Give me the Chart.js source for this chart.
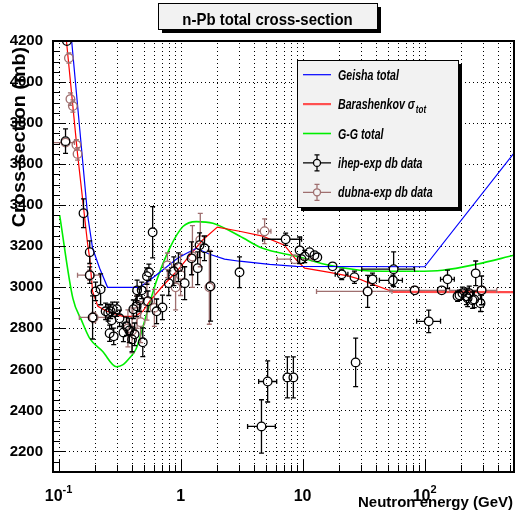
<!DOCTYPE html>
<html>
<head>
<meta charset="utf-8">
<title>n-Pb total cross-section</title>
<script src="https://cdn.jsdelivr.net/npm/chart.js@4.4.1/dist/chart.umd.min.js"></script>
<style>
  html, body { margin: 0; padding: 0; background: #fff; }
  #wrap { width: 515px; height: 527px; }
</style>
</head>
<body>
<div id="wrap"><canvas id="xsChart" width="515" height="527"></canvas></div>
<script>
// Energies in GeV, cross-sections in mb

// Model curves
const geishaE     = [0.128, 0.173, 0.19, 0.217, 0.252, 0.46, 0.557, 0.71, 0.945, 1.12, 1.35, 1.73, 2.29, 3.04, 5.36, 8.9, 100, 540];
const geishaSigma = [4200, 3351, 3190, 3093, 3000, 3000, 3034, 3083, 3141, 3166, 3190, 3161, 3137, 3127, 3112, 3102, 3100, 3654];

const barashE     = [0.116, 0.143, 0.173, 0.18, 0.19, 0.21, 0.248, 0.335, 0.42, 0.49, 0.557, 0.71, 0.93, 1.19, 1.51, 2.0, 3.04, 4.7, 7.1, 8.9, 10.4, 16.6, 24, 29.4, 35.3, 55, 540];
const barashSigma = [4200, 3650, 3210, 3141, 2980, 2907, 2883, 2858, 2858, 2883, 2932, 3005, 3078, 3156, 3229, 3293, 3273, 3249, 3205, 3132, 3093, 3073, 3054, 3039, 3020, 2978, 2976];

const ggE     = [0.102, 0.131, 0.154, 0.18, 0.229, 0.297, 0.335, 0.38, 0.433, 0.524, 0.632, 0.813, 1.045, 1.345, 1.84, 3.04, 4.7, 8.9, 16.6, 29.4, 45, 85, 140, 265, 540];
const ggSigma = [3351, 2946, 2840, 2751, 2688, 2613, 2622, 2654, 2702, 2865, 3028, 3190, 3296, 3320, 3312, 3250, 3190, 3151, 3107, 3083, 3078, 3078, 3083, 3112, 3156];

// ihep-exp db measurements (value, sigma error, optional energy range)
const ihepE = [
  0.117, 0.114, 0.160, 0.180, 0.180, 0.201, 0.221, 0.190, 0.243, 0.255,
  0.267, 0.272, 0.262, 0.283, 0.277, 0.300, 0.316, 0.340, 0.360, 0.380,
  0.400, 0.420, 0.410, 0.436, 0.440, 0.460, 0.480, 0.490, 0.530, 0.550,
  0.540, 0.590, 0.636, 0.710, 0.800, 0.880, 0.960, 1.08, 1.23, 1.38,
  1.43, 1.57, 1.76, 3.04, 7.26, 9.45, 10.4, 11.4, 12.5, 13.2,
  9.8, 17.6, 20.9, 26.6, 34.1, 37.4, 55.7, 55.0, 82.8, 108,
  138, 154, 262, 293, 186, 193, 204, 220, 225, 232,
  247, 255, 287, 5.17, 7.5, 8.4, 4.6, 27.2
];
const ihepSigma = [
  4200, 3712, 3361, 3171, 3059, 2980, 2990, 2853, 2883, 2875,
  2883, 2839, 2776, 2761, 2893, 2893, 2849, 2780, 2810, 2790,
  2746, 2771, 2893, 2907, 2985, 2937, 2985, 2732, 3054, 3073,
  2932, 3268, 2883, 2902, 3020, 3078, 3098, 3020, 3141, 3093,
  3205, 3190, 3005, 3073, 3234, 3180, 3150, 3171, 3156, 3146,
  3137, 3102, 3063, 3049, 2980, 3039, 3088, 3034, 2985, 2834,
  2985, 3039, 3068, 2985, 2956, 2961, 2971, 2956, 2946, 2971,
  2937, 2941, 2922, 2541, 2561, 2561, 2322, 2634
];
const ihepErr = [
  20, 60, 70, 55, 40, 45, 75, 105, 40, 40,
  35, 40, 40, 40, 35, 35, 40, 45, 45, 60,
  60, 55, 45, 50, 50, 55, 40, 70, 40, 40,
  50, 125, 60, 60, 60, 70, 70, 80, 80, 80,
  60, 60, 170, 75, 30, 65, 30, 20, 20, 20,
  20, 15, 25, 30, 78, 30, 85, 25, 20, 55,
  20, 45, 60, 70, 25, 25, 30, 40, 40, 35,
  40, 40, 40, 100, 100, 100, 130, 118
];
const ihepElow = [
  null, null, null, null, null, null, null, null, null, null,
  null, null, null, null, null, null, null, null, null, null,
  null, null, null, null, null, null, null, null, null, null,
  null, null, null, null, null, null, null, null, null, null,
  null, null, null, null, 4.7, null, null, null, null, null,
  null, null, 18.5, null, null, null, 30.5, 42.6, null, 86,
  null, 135, null, null, null, null, null, null, null, null,
  null, null, null, 4.36, null, null, 3.54, null
];
const ihepEhigh = [
  null, null, null, null, null, null, null, null, null, null,
  null, null, null, null, null, null, null, null, null, null,
  null, null, null, null, null, null, null, null, null, null,
  null, null, null, null, null, null, null, null, null, null,
  null, null, null, null, 9.8, null, null, null, null, null,
  null, null, 23.5, null, null, null, 82.6, 65.7, null, 135,
  null, 175, null, null, null, null, null, null, null, null,
  null, null, null, 6.13, null, null, 5.98, null
];

// dubna-exp db measurements
const dubnaE     = [0.1215, 0.125, 0.131, 0.140, 0.143, 0.114, 0.180, 0.194, 0.370, 0.400, 0.440, 0.470, 0.530, 0.610, 0.780, 0.910, 1.00, 1.25, 1.45, 1.72, 4.88, 8.6, 34.1, 82.8, 293];
const dubnaSigma = [4117, 3917, 3883, 3694, 3650, 3705, 3059, 2853, 2800, 2790, 2880, 2830, 2930, 2900, 3107, 3000, 3060, 3150, 3230, 3000, 3273, 3137, 2980, 2985, 2985];
const dubnaErr   = [25, 30, 30, 25, 30, 15, 25, 25, 90, 110, 80, 100, 90, 90, 60, 110, 100, 150, 130, 180, 60, 10, 10, 10, 10];
const dubnaElow  = [0.117, null, null, null, null, 0.089, 0.143, 0.148, null, null, null, null, null, null, null, null, null, null, null, null, 4.3, 6.2, 13, 52, 160];
const dubnaEhigh = [0.126, null, null, null, null, 0.135, 0.217, 0.245, null, null, null, null, null, null, null, null, null, null, null, null, 5.5, 12, 54, 150, 390];

// Axis ticks
const xTicks = [0.1, 0.2, 0.3, 0.4, 0.5, 0.6, 0.7, 0.8, 0.9,
                1, 2, 3, 4, 5, 6, 7, 8, 9,
                10, 20, 30, 40, 50, 60, 70, 80, 90,
                100, 200, 300, 400, 500];
// decade labels: [value, mantissa text, exponent text]
const xTickLabels = [[0.1, "10", "-1"], [1, "1", ""], [10, "10", ""], [100, "10", "2"]];
const yTicks = [2200, 2400, 2600, 2800, 3000, 3200, 3400, 3600, 3800, 4000, 4200];

const FONT = "'Liberation Sans', Arial, Helvetica, sans-serif";
const DUBNA_COLOR = "#9f6f6f";

function toPoints(xs, ys) {
    return xs.map((x, i) => ({ x: x, y: ys[i] }));
}

// Draw text with optional rotation and horizontal squeeze, returns drawn width
function drawText(ctx, str, x, y, font, opts) {
    opts = opts || {};
    ctx.save();
    ctx.translate(x, y);
    if (opts.rotate) ctx.rotate(opts.rotate);
    ctx.scale(opts.sx || 1, 1);
    ctx.font = font;
    ctx.fillStyle = "#000";
    ctx.textAlign = opts.align || "left";
    ctx.textBaseline = "alphabetic";
    ctx.fillText(str, 0, 0);
    const w = ctx.measureText(str).width * (opts.sx || 1);
    ctx.restore();
    return w;
}

function textWidth(ctx, str, font) {
    ctx.save();
    ctx.font = font;
    const w = ctx.measureText(str).width;
    ctx.restore();
    return w;
}

function drawGrid(chart) {
    const { ctx, chartArea: a, scales: { x, y } } = chart;
    ctx.save();
    ctx.strokeStyle = "#000";
    ctx.lineWidth = 1;
    ctx.setLineDash([1, 3]);
    xTicks.forEach(v => {
        const px = Math.round(x.getPixelForValue(v)) + 0.5;
        ctx.beginPath();
        ctx.moveTo(px, a.bottom);
        ctx.lineTo(px, a.top);
        ctx.stroke();
    });
    yTicks.forEach(v => {
        const py = Math.round(y.getPixelForValue(v)) + 0.5;
        ctx.beginPath();
        ctx.moveTo(a.left, py);
        ctx.lineTo(a.right, py);
        ctx.stroke();
    });
    ctx.restore();
}

function drawErrorBars(chart, index) {
    const ds = chart.data.datasets[index];
    if (!ds.errorBars) return;
    const { ctx, chartArea: a, scales: { x, y } } = chart;
    const { err, lo, hi, color } = ds.errorBars;
    const r = ds.pointRadius;
    const cap = 2.5;
    ctx.save();
    ctx.beginPath();
    ctx.rect(a.left, a.top, a.right - a.left, a.bottom - a.top);
    ctx.clip();
    ctx.strokeStyle = color;
    ctx.lineWidth = 1.3;
    ds.data.forEach((p, i) => {
        const px = x.getPixelForValue(p.x);
        const py = y.getPixelForValue(p.y);
        ctx.beginPath();
        if (err[i]) {
            const top = y.getPixelForValue(p.y + err[i]);
            const bot = y.getPixelForValue(p.y - err[i]);
            if (py - top > r) {
                ctx.moveTo(px, py - r); ctx.lineTo(px, top);
                ctx.moveTo(px - cap, top); ctx.lineTo(px + cap, top);
            }
            if (bot - py > r) {
                ctx.moveTo(px, py + r); ctx.lineTo(px, bot);
                ctx.moveTo(px - cap, bot); ctx.lineTo(px + cap, bot);
            }
        }
        if (lo[i] != null) {
            const left = x.getPixelForValue(lo[i]);
            const right = x.getPixelForValue(hi[i]);
            if (px - left > r) {
                ctx.moveTo(px - r, py); ctx.lineTo(left, py);
                ctx.moveTo(left, py - cap); ctx.lineTo(left, py + cap);
            }
            if (right - px > r) {
                ctx.moveTo(px + r, py); ctx.lineTo(right, py);
                ctx.moveTo(right, py - cap); ctx.lineTo(right, py + cap);
            }
        }
        ctx.stroke();
    });
    ctx.restore();
}

function drawFrame(chart) {
    const { ctx, chartArea: a, scales: { x, y } } = chart;
    ctx.save();
    ctx.strokeStyle = "#000";
    ctx.lineWidth = 1;
    // tick marks inside the frame
    ctx.beginPath();
    xTicks.forEach(v => {
        const px = Math.round(x.getPixelForValue(v)) + 0.5;
        const major = Math.abs(Math.log10(v) - Math.round(Math.log10(v))) < 1e-9;
        ctx.moveTo(px, a.bottom);
        ctx.lineTo(px, a.bottom - (major ? 13 : 7));
    });
    for (let v = 2150; v < 4200; v += 50) {
        const py = Math.round(y.getPixelForValue(v)) + 0.5;
        ctx.moveTo(a.left, py);
        ctx.lineTo(a.left + (v % 200 === 0 ? 13 : 7), py);
    }
    ctx.stroke();
    ctx.lineWidth = 2;
    ctx.strokeRect(Math.round(a.left), Math.round(a.top), Math.round(a.right - a.left), Math.round(a.bottom - a.top));
    ctx.restore();
}

function drawXLabels(chart) {
    const { ctx, chartArea: a, scales: { x } } = chart;
    const mainFont = "bold 16px " + FONT;
    const expFont = "bold 11px " + FONT;
    const base = a.bottom + 29;
    xTickLabels.forEach(([v, mant, exp]) => {
        const px = x.getPixelForValue(v);
        const wm = textWidth(ctx, mant, mainFont);
        const we = exp ? textWidth(ctx, exp, expFont) : 0;
        const x0 = px - (wm + we) / 2;
        drawText(ctx, mant, x0, base, mainFont);
        if (exp) drawText(ctx, exp, x0 + wm, base - 8, expFont);
    });
}

function drawBox(ctx, x, y, w, h) {
    ctx.fillStyle = "#000";
    ctx.fillRect(x + 4, y + 4, w, h);
    ctx.fillStyle = "#f2f2f2";
    ctx.fillRect(x, y, w, h);
    ctx.strokeStyle = "#000";
    ctx.lineWidth = 1;
    ctx.strokeRect(x + 0.5, y + 0.5, w, h);
}

function drawLegend(chart) {
    const ctx = chart.ctx;
    const ds = chart.data.datasets;
    const bx = 297, by = 60, bw = 161, bh = 147;
    drawBox(ctx, bx, by, bw, bh);
    const rowH = bh / 5;
    const order = [2, 3, 4, 0, 1];
    const font = "italic bold 14px " + FONT;
    order.forEach((di, row) => {
        const d = ds[di];
        const cy = by + rowH * (row + 0.5);
        const x0 = 303, x1 = 331, xm = 317;
        ctx.save();
        if (d.showLine) {
            ctx.strokeStyle = d.legendColor || d.borderColor;
            ctx.lineWidth = d.legendWidth || d.borderWidth;
            ctx.beginPath();
            ctx.moveTo(x0, cy); ctx.lineTo(x1, cy);
            ctx.stroke();
        } else {
            const r = 3.5;
            ctx.strokeStyle = d.errorBars.color;
            ctx.lineWidth = 1.3;
            ctx.beginPath();
            ctx.moveTo(x0, cy); ctx.lineTo(xm - r, cy);
            ctx.moveTo(xm + r, cy); ctx.lineTo(x1, cy);
            ctx.moveTo(xm, cy - r); ctx.lineTo(xm, cy - 8);
            ctx.moveTo(xm - 2.5, cy - 8); ctx.lineTo(xm + 2.5, cy - 8);
            ctx.moveTo(xm, cy + r); ctx.lineTo(xm, cy + 8);
            ctx.moveTo(xm - 2.5, cy + 8); ctx.lineTo(xm + 2.5, cy + 8);
            ctx.stroke();
            ctx.strokeStyle = d.pointBorderColor;
            ctx.beginPath();
            ctx.arc(xm, cy, r, 0, Math.PI * 2);
            ctx.stroke();
        }
        ctx.restore();
        const w = drawText(ctx, d.label, 338, cy + 5, font, { sx: 0.76 });
        if (d.subscript) {
            drawText(ctx, d.subscript, 338 + w + 1, cy + 9, "italic bold 10px " + FONT, { sx: 0.8 });
        }
    });
}

const chromePlugin = {
    id: "rootChrome",
    beforeDatasetsDraw(chart) {
        drawGrid(chart);
    },
    beforeDatasetDraw(chart, args) {
        drawErrorBars(chart, args.index);
    },
    afterDraw(chart) {
        const ctx = chart.ctx;
        drawFrame(chart);
        drawXLabels(chart);
        // title box
        drawBox(ctx, 158, 3, 219, 26);
        drawText(ctx, "n-Pb total cross-section", 267.5, 25, "bold 17px " + FONT, { align: "center", sx: 0.88 });
        // axis titles
        drawText(ctx, "Neutron energy (GeV)", 513, 507, "bold 15px " + FONT, { align: "right" });
        drawText(ctx, "Cross-section (mb)", 25, 137, "bold 18px " + FONT, { align: "center", rotate: -Math.PI / 2, sx: 1.1 });
        drawLegend(chart);
    }
};

const ctx = document.getElementById("xsChart").getContext("2d");

new Chart(ctx, {
    type: "scatter",
    data: {
        datasets: [
            {
                label: "ihep-exp db data",
                data: toPoints(ihepE, ihepSigma),
                pointRadius: 4.3,
                pointBorderWidth: 1.3,
                pointBorderColor: "#000",
                pointBackgroundColor: "rgba(0,0,0,0)",
                errorBars: { err: ihepErr, lo: ihepElow, hi: ihepEhigh, color: "#000" }
            },
            {
                label: "dubna-exp db data",
                data: toPoints(dubnaE, dubnaSigma),
                pointRadius: 4.3,
                pointBorderWidth: 1.3,
                pointBorderColor: DUBNA_COLOR,
                pointBackgroundColor: "rgba(0,0,0,0)",
                errorBars: { err: dubnaErr, lo: dubnaElow, hi: dubnaEhigh, color: DUBNA_COLOR }
            },
            {
                label: "Geisha total",
                data: toPoints(geishaE, geishaSigma),
                showLine: true,
                borderColor: "#0000ff",
                borderWidth: 1.2,
                pointRadius: 0
            },
            {
                label: "Barashenkov σ",
                subscript: "tot",
                data: toPoints(barashE, barashSigma),
                showLine: true,
                borderColor: "#ff0000",
                borderWidth: 1.2,
                legendColor: "#ff5050",
                legendWidth: 2.2,
                pointRadius: 0,
                segment: {
                    borderWidth: c => c.p0.parsed.x >= 55 ? 2.2 : 1.2,
                    borderColor: c => c.p0.parsed.x >= 55 ? "#ff4a4a" : "#ff0000"
                }
            },
            {
                label: "G-G total",
                data: toPoints(ggE, ggSigma),
                showLine: true,
                borderColor: "#00ee00",
                borderWidth: 1.6,
                cubicInterpolationMode: "monotone",
                pointRadius: 0
            }
        ]
    },
    options: {
        responsive: false,
        animation: false,
        events: [],
        layout: { autoPadding: false, padding: { top: 41, right: 1, left: 0, bottom: 0 } },
        plugins: {
            legend: { display: false },
            tooltip: { enabled: false },
            title: { display: false }
        },
        scales: {
            x: {
                type: "logarithmic",
                min: 0.09,
                max: 540,
                afterBuildTicks: s => { s.ticks = xTicks.map(v => ({ value: v })); },
                afterFit: s => { s.height = 55; s.paddingLeft = 0; s.paddingRight = 0; },
                grid: { display: false },
                border: { display: false },
                ticks: { display: false }
            },
            y: {
                type: "linear",
                min: 2100,
                max: 4200,
                afterBuildTicks: s => { s.ticks = yTicks.map(v => ({ value: v })); },
                afterFit: s => { s.width = 53; },
                grid: { display: false },
                border: { display: false },
                ticks: {
                    autoSkip: false,
                    padding: 2,
                    color: "#000",
                    font: { family: FONT, size: 15, weight: "bold" },
                    callback: v => String(v)
                }
            }
        }
    },
    plugins: [chromePlugin]
});
</script>
</body>
</html>
